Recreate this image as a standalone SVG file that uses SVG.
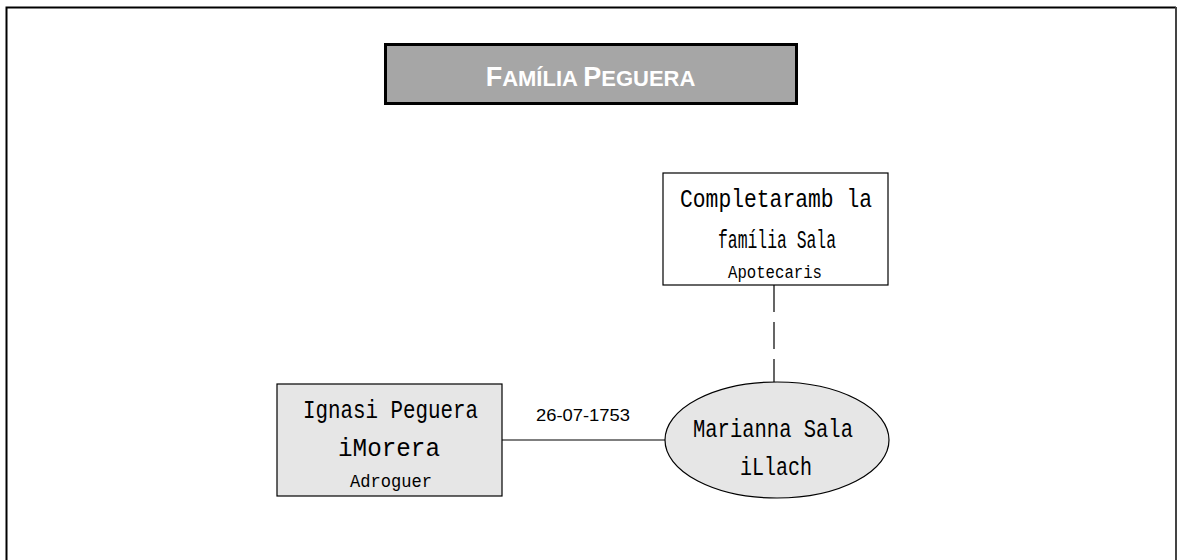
<svg xmlns="http://www.w3.org/2000/svg" width="1177" height="560" viewBox="0 0 1177 560">
<style>
.mono{font-family:"Liberation Mono","Courier New",monospace;fill:#000}
.sans{font-family:"Liberation Sans",Arial,sans-serif;fill:#000}
.node{stroke:#000;stroke-width:1.2}
.conn{stroke:#000;stroke-width:1.2;fill:none}
</style>
<rect x="0" y="0" width="1177" height="560" fill="#fff"/>
<g id="frame">
<path d="M6.5 575 V7.5 H1176" fill="none" stroke="#000" stroke-width="2"/>
<path d="M1176 7 V575" fill="none" stroke="#444" stroke-width="2"/>
</g>
<g id="title">
<rect x="385.5" y="44.5" width="411" height="59" fill="#a6a6a6" stroke="#000" stroke-width="3"/>
<text x="590.5" y="86" text-anchor="middle" font-family="Liberation Sans,Arial,sans-serif" font-weight="bold" fill="#fff"><tspan font-size="27">F</tspan><tspan font-size="22">AMÍLIA </tspan><tspan font-size="27">P</tspan><tspan font-size="22">EGUERA</tspan></text>
</g>
<g id="connectors">
<line class="conn" x1="502" y1="440" x2="665" y2="440"/>
<line class="conn" x1="774" y1="285" x2="774" y2="382" stroke-dasharray="27 10"/>
<text class="sans" x="536" y="421" font-size="17" textLength="94" lengthAdjust="spacingAndGlyphs">26-07-1753</text>
</g>
<g id="node-apotecaris">
<rect class="node" x="663" y="173" width="225" height="112" fill="#fff"/>
<text class="mono" x="680" y="207" font-size="26" textLength="192" lengthAdjust="spacingAndGlyphs">Completaramb la</text>
<text class="mono" x="718" y="248" font-size="26" textLength="118" lengthAdjust="spacingAndGlyphs">família Sala</text>
<text class="mono" x="728" y="278" font-size="19" textLength="94" lengthAdjust="spacingAndGlyphs">Apotecaris</text>
</g>
<g id="node-ignasi">
<rect class="node" x="277" y="384" width="225" height="112" fill="#e6e6e6"/>
<text class="mono" x="303" y="418" font-size="25" textLength="175" lengthAdjust="spacingAndGlyphs">Ignasi Peguera</text>
<text class="mono" x="338" y="456" font-size="25" textLength="102" lengthAdjust="spacingAndGlyphs">iMorera</text>
<text class="mono" x="350" y="487" font-size="19" textLength="82" lengthAdjust="spacingAndGlyphs">Adroguer</text>
</g>
<g id="node-marianna">
<ellipse class="node" cx="777" cy="440" rx="112" ry="58" fill="#e6e6e6"/>
<text class="mono" x="693" y="437" font-size="25" textLength="160" lengthAdjust="spacingAndGlyphs">Marianna Sala</text>
<text class="mono" x="740" y="475" font-size="25" textLength="72" lengthAdjust="spacingAndGlyphs">iLlach</text>
</g>
</svg>
